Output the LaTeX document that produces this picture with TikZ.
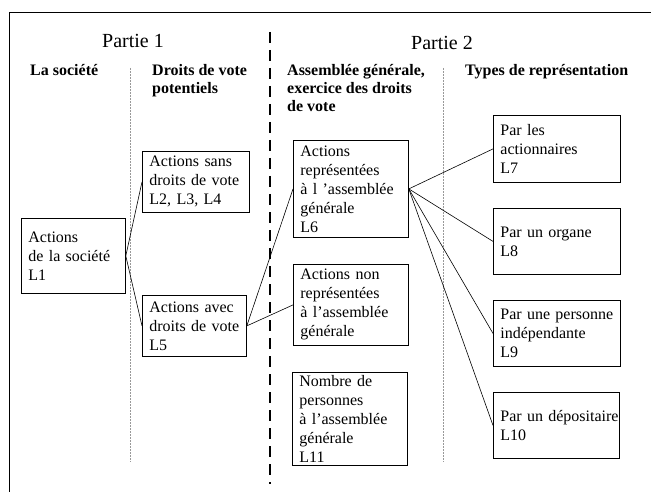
\documentclass[tikz,border=0pt]{standalone}
\usepackage{fontspec}
\setmainfont{Liberation Serif}
\usepackage{tikz}
\usetikzlibrary{positioning}
\newcommand{\corps}{\fontsize{16}{19}\selectfont}
\newcommand{\entete}{\bfseries\fontsize{16}{18}\selectfont}
\newcommand{\titre}{\fontsize{20}{24}\selectfont}
\tikzset{
  boite/.style={draw, line width=0.8pt, anchor=north west, align=left, inner xsep=7pt, inner ysep=2pt, font=\corps},
  lien/.style={line width=0.6pt},
  colonne/.style={gray!80, line width=0.6pt, dash pattern=on 2pt off 1pt},
  entete/.style={anchor=north west, align=left, inner sep=0pt, font=\entete}
}

\begin{document}
\begin{tikzpicture}[x=1pt, y=-1pt]
    \useasboundingbox (0,0) rectangle (651,492);
    % Cadre et separations
    \draw[line width=1pt] (9,492) -- (9,13) -- (651,13);
    \draw[line width=1.8pt, dash pattern=on 11pt off 7pt] (270,32) -- (270,484);
    \foreach \x in {130,443} \draw[colonne] (\x,68) -- (\x,462);

    % Partie 1
    \node[font=\titre] (p1) at (133,41) {Partie 1};
    \node[entete] (h1) at (30,64) {La société};
    \node[entete] (h2) at (152,64) {Droits de vote\\potentiels};
    \node[boite, text width=90pt, minimum height=75pt] (l1) at (21,218) {Actions\\de la société\\L1};
    \node[boite, text width=93pt, minimum height=61pt] (l2) at (142,151) {Actions sans\\droits de vote\\L2, L3, L4};
    \node[boite, text width=90pt, minimum height=61pt] (l5) at (142,295) {Actions avec\\droits de vote\\L5};

    % Partie 2
    \node[font=\titre] (p2) at (442,43) {Partie 2};
    \node[entete] (h3) at (287,64) {Assemblée générale,\\exercice des droits\\de vote};
    \node[entete] (h4) at (465,64) {Types de représentation};
    \node[boite, text width=101pt, minimum height=97pt] (l6) at (293,140) {Actions\\représentées\\à  l 'assemblée\\générale\\L6};
    \node[boite, text width=101pt, minimum height=81pt] (nr) at (293,264) {Actions non\\représentées\\à  l'assemblée\\générale};
    \node[boite, text width=101pt, minimum height=93pt] (l11) at (292,372) {Nombre de\\personnes\\à  l'assemblée\\générale\\L11};
    \node[boite, text width=113pt, minimum height=67pt] (l7) at (493,115) {Par les\\actionnaires\\L7};
    \node[boite, text width=113pt, minimum height=66pt] (l8) at (493,208) {Par un organe\\L8};
    \node[boite, text width=113pt, minimum height=66pt] (l9) at (493,300) {Par une personne\\indépendante\\L9};
    \node[boite, text width=112pt, minimum height=66pt] (l10) at (493,392) {\mbox{Par un dépositaire}\\L10};

    % Liens
    \draw[lien] (l1.east) -- (l2.west); \draw[lien] (l1.east) -- (l5.west);
    \draw[lien] (l5.east) -- (l6.west); \draw[lien] (l5.east) -- (nr.west);
    \foreach \n in {l7,l8,l9,l10} \draw[lien] (l6.east) -- (\n.west);
\end{tikzpicture}
\end{document}
